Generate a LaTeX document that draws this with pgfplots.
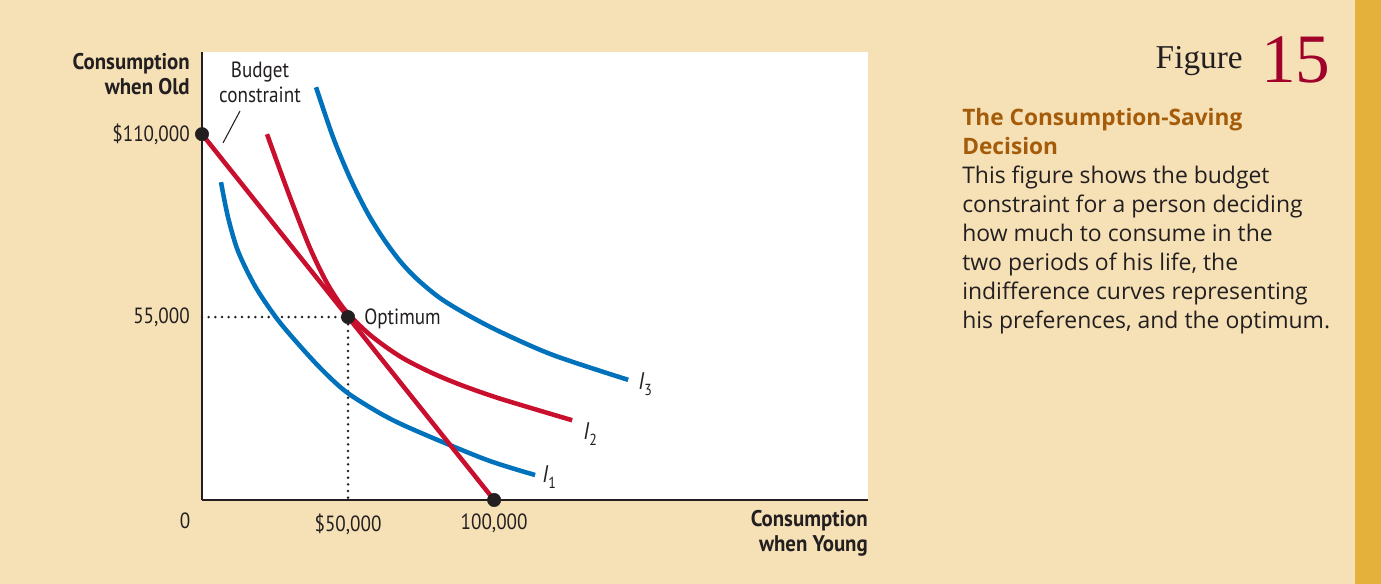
\documentclass[border=0pt]{standalone}
\usepackage{fontspec}
\usepackage{pgfplots}
\pgfplotsset{compat=1.18}
\setmainfont{Open Sans}
\newfontfamily\condfont[FakeStretch=0.87]{PT Sans}
\newfontfamily\boldcond[FakeStretch=0.92]{PT Sans}
\newfontfamily\figfont{Liberation Serif}
\definecolor{bg}{RGB}{246,225,183}
\definecolor{stripe}{RGB}{228,178,58}
\definecolor{titlec}{RGB}{165,92,10}
\definecolor{figred}{RGB}{160,0,42}
\definecolor{bluec}{RGB}{0,114,188}
\definecolor{redc}{RGB}{200,16,46}
\definecolor{textc}{RGB}{35,31,32}
\begin{document}
\begin{tikzpicture}[x=0.75pt,y=0.75pt]
\fill[bg] (0,0) rectangle (1381,584);
\fill[stripe] (1355,0) rectangle (1381,584);
\begin{axis}[
  at={(151.5pt,63pt)}, anchor=origin,
  scale only axis, width=499.5pt, height=336pt,
  xmin=0, xmax=228000, ymin=0, ymax=134700,
  axis lines=left, axis line style={-, line width=1pt, textc},
  axis background/.style={fill=white},
  xtick={50000,100000}, xticklabels={{\$50,000},{100,000}},
  ytick={55000,110000}, yticklabels={{55,000},{\$110,000}},
  major tick length=0pt, scaled ticks=false,
  tick label style={font=\condfont\fontsize{16.5}{18}\selectfont, text=textc, inner sep=0pt},
  xticklabel style={anchor=north, yshift=-10pt},
  yticklabel style={anchor=east, xshift=-9pt},
  clip=false,
]
\addplot[textc, line width=2.1pt, line cap=round, dash pattern=on 0pt off 5pt]
  coordinates {(0,55000) (50000,55000) (50000,0)};
\addplot[bluec, line width=3.4pt, smooth, tension=0.5] coordinates {
 (6507,95559) (8904,85042) (12329,74825) (18151,64307) (25000,55292)
 (31165,48681) (40411,39756) (49658,32304) (62672,25242)
 (74658,20284) (97603,12020) (114041,7513)};
\addplot[bluec, line width=3.4pt, smooth, tension=0.5] coordinates {
 (39042,124107) (44864,109082) (50685,96761) (56508,86544) (61987,78731)
 (67809,71820) (73631,66411) (81508,60701) (90755,55743) (102056,50574)
 (120207,43573) (145892,36120)};
\addplot[redc, line width=3.4pt, smooth, tension=0.5] coordinates {
 (22260,109983) (26713,99165) (31165,88648) (36987,75726) (42809,65209)
 (48973,57096) (57535,49643) (67809,43152) (78083,38464) (88357,34678)
 (102056,30471) (126714,23980)};
\addplot[redc, line width=3.4pt] coordinates {(0,110000) (100000,0)};
\addplot[only marks, mark=*, mark size=5pt, textc] coordinates {(0,110000) (50000,55000) (100000,0)};
\end{axis}
% annotations
\begin{scope}[every node/.style={inner sep=0pt, text=textc, font=\condfont\fontsize{16.5}{18}\selectfont}]
\node[anchor=base] at (260,584-78) {Budget};
\node[anchor=base] at (260,584-103) {constraint};
\draw[textc, line width=0.8pt] (240,584-111) -- (223,584-143);
\node[anchor=base west] at (364,584-325) {Optimum};
\node[anchor=base west, font=\condfont\fontsize{18}{18}\selectfont] at (638,584-390) {\itshape I\/\raisebox{-0.5ex}{\upshape\fontsize{12}{12}\selectfont 3}};
\node[anchor=base west, font=\condfont\fontsize{18}{18}\selectfont] at (583,584-440) {\itshape I\/\raisebox{-0.5ex}{\upshape\fontsize{12}{12}\selectfont 2}};
\node[anchor=base west, font=\condfont\fontsize{18}{18}\selectfont] at (542,584-483) {\itshape I\/\raisebox{-0.5ex}{\upshape\fontsize{12}{12}\selectfont 1}};
\node[anchor=base] at (185,584-529) {0};
\end{scope}
\begin{scope}[every node/.style={inner sep=0pt, text=textc, font=\boldcond\bfseries\fontsize{17}{18}\selectfont}]
\node[anchor=base east] at (190,584-70) {Consumption};
\node[anchor=base east] at (190,584-95) {when Old};
\node[anchor=base east] at (868,584-527) {Consumption};
\node[anchor=base east] at (868,584-552) {when Young};
\end{scope}
% right panel
\node[anchor=base east, inner sep=0pt, text=textc] at (1243,584-69) {\figfont\fontsize{25}{25}\selectfont Figure};
\node[anchor=base west, inner sep=0pt, text=figred] at (1261,584-83) {\figfont\fontsize{52}{52}\selectfont 15};
\begin{scope}[every node/.style={inner sep=0pt, anchor=base west, font=\fontsize{17.2}{20}\selectfont}]
\node[text=titlec, font=\bfseries\fontsize{17}{20}\selectfont] at (962,584-126) {The Consumption-Saving};
\node[text=titlec, font=\bfseries\fontsize{17}{20}\selectfont] at (962,584-155) {Decision};
\node[text=textc] at (962,584-184) {This figure shows the budget};
\node[text=textc] at (962,584-213) {constraint for a person deciding};
\node[text=textc] at (962,584-242) {how much to consume in the};
\node[text=textc] at (962,584-271) {two periods of his life, the};
\node[text=textc] at (962,584-300) {indifference curves representing};
\node[text=textc] at (962,584-329) {his preferences, and the optimum.};
\end{scope}
\end{tikzpicture}
\end{document}
